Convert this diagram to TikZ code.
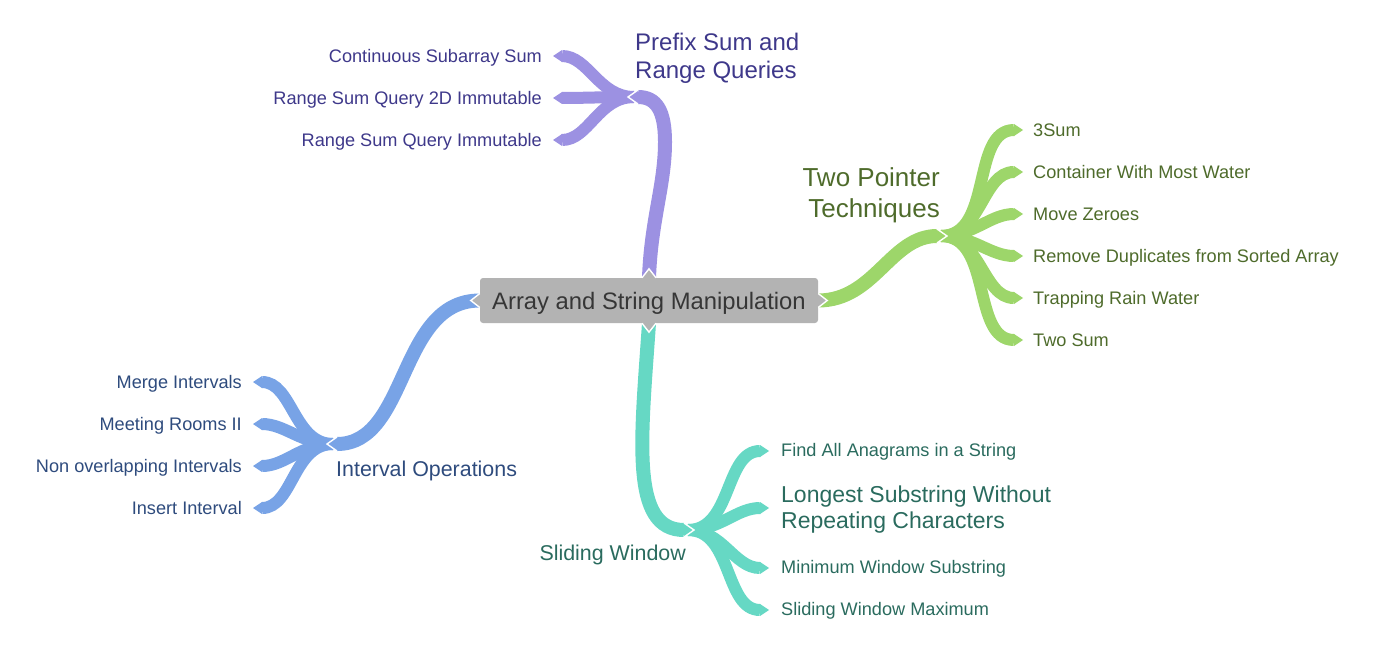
\documentclass[tikz,border=0pt]{standalone}
\usepackage{fontspec}
\setmainfont{Liberation Sans}
\usetikzlibrary{arrows.meta,calc,backgrounds}

% palette
\definecolor{hubfill}{HTML}{B3B3B3}
\definecolor{hubtext}{HTML}{363636}
\definecolor{prefband}{HTML}{9C91E2}
\definecolor{preftext}{HTML}{3E388A}
\definecolor{twoband}{HTML}{9DD66A}
\definecolor{twotext}{HTML}{4E6B2B}
\definecolor{intband}{HTML}{78A3E6}
\definecolor{inttext}{HTML}{2E4B7D}
\definecolor{slideband}{HTML}{66D8C4}
\definecolor{slidetext}{HTML}{2A6B5E}

\tikzset{
  band/.style={line width=14pt, line cap=butt,
    -{Triangle[length=10pt,width=14pt,line width=0pt]}},
  twig/.style={line width=12pt, line cap=butt,
    -{Triangle[length=9pt,width=12pt,line width=0pt]}},
  leaf/.style={font=\fontsize{18.15}{21}\selectfont, inner sep=0pt,
    text height=13pt, text depth=0pt},
  topic/.style={inner sep=0pt},
  hub/.style={fill=hubfill, text=hubtext, rounded corners=3pt,
    minimum width=338pt, minimum height=45pt, inner sep=0pt,
    font=\fontsize{23.8}{28}\selectfont, text height=17.1pt, text depth=0pt},
  notch/.style={draw=white, line width=1.4pt, line join=miter},
}

\begin{document}
\begin{tikzpicture}[x=1pt,y=-1pt]
\useasboundingbox (0,0) rectangle (1375,666);

% ---------- central node ----------
\node[hub] (hub) at (649,300.5) {Array and String Manipulation};

% ---------- labels ----------
% prefix sums
\node[topic, anchor=west, align=left, text=preftext,
  font=\fontsize{24}{28}\selectfont] (pref) at (635,58.4)
  {Prefix Sum and\\Range Queries};
\node[leaf, anchor=east, text=preftext] (p1) at (542,56) {Continuous Subarray Sum};
\node[leaf, anchor=east, text=preftext] (p2) at (542,98) {Range Sum Query 2D Immutable};
\node[leaf, anchor=east, text=preftext] (p3) at (542,140) {Range Sum Query Immutable};

% two pointers
\node[topic, anchor=east, align=right, text=twotext,
  font=\fontsize{26}{31}\selectfont] (two) at (940,195.1)
  {Two Pointer\\Techniques};
\node[leaf, anchor=west, text=twotext] (t1) at (1033,130) {3Sum};
\node[leaf, anchor=west, text=twotext] (t2) at (1033,172) {Container With Most Water};
\node[leaf, anchor=west, text=twotext] (t3) at (1033,214) {Move Zeroes};
\node[leaf, anchor=west, text=twotext] (t4) at (1033,256) {Remove Duplicates from Sorted Array};
\node[leaf, anchor=west, text=twotext] (t5) at (1033,298) {Trapping Rain Water};
\node[leaf, anchor=west, text=twotext] (t6) at (1033,340) {Two Sum};

% intervals
\node[topic, anchor=west, text=inttext, font=\fontsize{21.4}{25}\selectfont,
  text height=15.3pt, text depth=0pt] (intv) at (336,469) {Interval Operations};
\node[leaf, anchor=east, text=inttext] (i1) at (242,382) {Merge Intervals};
\node[leaf, anchor=east, text=inttext] (i2) at (242,424) {Meeting Rooms II};
\node[leaf, anchor=east, text=inttext] (i3) at (242,466) {Non overlapping Intervals};
\node[leaf, anchor=east, text=inttext] (i4) at (242,508) {Insert Interval};

% sliding window
\node[topic, anchor=east, text=slidetext, font=\fontsize{21.4}{25}\selectfont,
  text height=15.3pt, text depth=0pt] (slide) at (686,553) {Sliding Window};
\node[leaf, anchor=west, text=slidetext] (s1) at (781,450) {Find All Anagrams in a String};
\node[topic, anchor=west, align=left, text=slidetext,
  font=\fontsize{23}{26}\selectfont] (s2) at (781,509.3)
  {Longest Substring Without\\Repeating Characters};
\node[leaf, anchor=west, text=slidetext] (s3) at (781,567) {Minimum Window Substring};
\node[leaf, anchor=west, text=slidetext] (s4) at (781,609) {Sliding Window Maximum};

% ---------- junctions and tips ----------
\coordinate (jP) at (628,97);
\coordinate (jT) at (947,236);
\coordinate (jI) at (327,444);
\coordinate (jS) at (694,530);

\coordinate (kP1) at ($(p1.east)+(11,0)$);
\coordinate (kP2) at ($(p2.east)+(11,0)$);
\coordinate (kP3) at ($(p3.east)+(11,0)$);
\foreach \k in {1,...,6}{\coordinate (kT\k) at ($(t\k.west)+(-10,0)$);}
\foreach \k in {1,...,4}{\coordinate (kI\k) at ($(i\k.east)+(11,0)$);}
\coordinate (kS1) at ($(s1.west)+(-12,1)$);
\coordinate (kS2) at (769,508);
\coordinate (kS3) at ($(s3.west)+(-12,1)$);
\coordinate (kS4) at ($(s4.west)+(-12,1)$);

\begin{scope}[on background layer]
  % twigs from each junction to its leaves
  \foreach \k in {1,2,3}{
    \draw[twig, prefband] ($(jP)+(6,0)$) to[out=180,in=0] (kP\k);}
  \foreach \k in {1,...,6}{
    \draw[twig, twoband] ($(jT)+(-6,0)$) to[out=0,in=180] (kT\k);}
  \foreach \k in {1,...,4}{
    \draw[twig, intband] ($(jI)+(6,0)$) to[out=180,in=0] (kI\k);}
  \foreach \k in {1,...,4}{
    \draw[twig, slideband] ($(jS)+(-6,0)$) to[out=0,in=180] (kS\k);}

  % main bands from the central node
  \draw[band, prefband] (hub.north) .. controls (651,220) and (665,185) .. (665,142)
    .. controls (665,110) and (656,97) .. (jP);
  \draw[band, twoband] (hub.east) to[out=0,in=180] (jT);
  \draw[band, intband] (hub.west) to[out=180,in=0] (jI);
  \draw[band, slideband] (hub.south) .. controls (641,440) and (630,530) .. (jS);

  % white seams where the bands split
  \draw[notch] ($(jP)+(10,-7)$) -- (jP) -- ($(jP)+(10,7)$);
  \draw[notch] ($(jT)+(-10,-7)$) -- (jT) -- ($(jT)+(-10,7)$);
  \draw[notch] ($(jI)+(10,-7)$) -- (jI) -- ($(jI)+(10,7)$);
  \draw[notch] ($(jS)+(-10,-7)$) -- (jS) -- ($(jS)+(-10,7)$);
\end{scope}

% small pointed stubs on the four sides of the central box
\fill[hubfill] ($(hub.north)+(-7,0.5)$) -- ($(hub.north)+(0,-9)$) -- ($(hub.north)+(7,0.5)$) -- cycle;
\draw[notch] ($(hub.north)+(-7,0)$) -- ($(hub.north)+(0,-9)$) -- ($(hub.north)+(7,0)$);
\fill[hubfill] ($(hub.south)+(-7,-0.5)$) -- ($(hub.south)+(0,9)$) -- ($(hub.south)+(7,-0.5)$) -- cycle;
\draw[notch] ($(hub.south)+(-7,0)$) -- ($(hub.south)+(0,9)$) -- ($(hub.south)+(7,0)$);
\fill[hubfill] ($(hub.west)+(0.5,-7)$) -- ($(hub.west)+(-9,0)$) -- ($(hub.west)+(0.5,7)$) -- cycle;
\draw[notch] ($(hub.west)+(0,-7)$) -- ($(hub.west)+(-9,0)$) -- ($(hub.west)+(0,7)$);
\fill[hubfill] ($(hub.east)+(-0.5,-7)$) -- ($(hub.east)+(9,0)$) -- ($(hub.east)+(-0.5,7)$) -- cycle;
\draw[notch] ($(hub.east)+(0,-7)$) -- ($(hub.east)+(9,0)$) -- ($(hub.east)+(0,7)$);
\end{tikzpicture}
\end{document}
